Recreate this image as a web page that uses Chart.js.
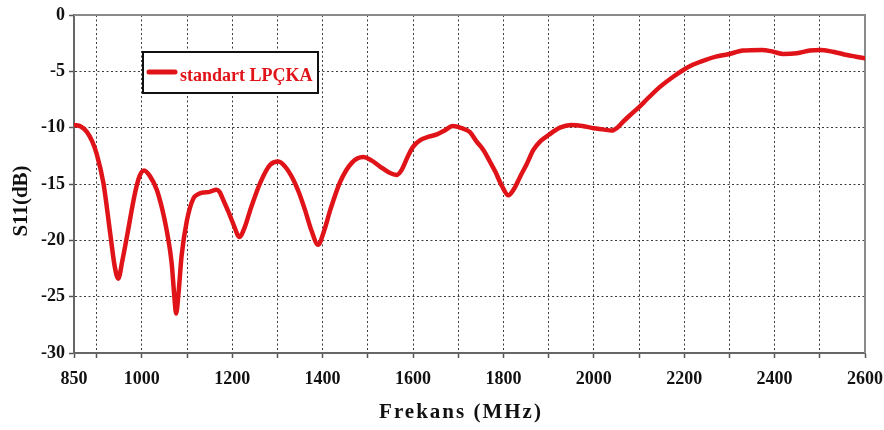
<!DOCTYPE html>
<html>
<head>
<meta charset="utf-8">
<title>S11 - standart LPÇKA</title>
<script src="https://cdn.jsdelivr.net/npm/chart.js@4.4.1/dist/chart.umd.min.js"></script>
<style>
  html, body { margin: 0; padding: 0; background: #ffffff; }
  #wrap { width: 884px; height: 430px; position: relative; }
</style>
</head>
<body>
<div id="wrap"><canvas id="s11"></canvas></div>
<script>
// Measured return loss of the standard LPÇKA antenna
const seriesLabel = 'standart LPÇKA';
const freqMHz = [
  850, 865, 878, 890, 900, 915, 930, 940, 948, 957, 967, 985, 995, 1005, 1018,
  1033, 1045, 1055, 1066, 1072, 1076, 1081, 1088, 1100, 1114, 1125, 1136, 1150,
  1165, 1172, 1180, 1192, 1203, 1216, 1228, 1240, 1262, 1284, 1302, 1318, 1335,
  1348, 1361, 1376, 1390, 1403, 1417, 1439, 1465, 1490, 1508, 1527, 1548, 1564,
  1575, 1588, 1600, 1616, 1635, 1653, 1670, 1688, 1708, 1726, 1740, 1756, 1770,
  1782, 1797, 1811, 1824, 1837, 1852, 1866, 1882, 1900, 1925, 1950, 1975, 2000,
  2020, 2040, 2052, 2065, 2080, 2102, 2117, 2147, 2175, 2198, 2220, 2246, 2270,
  2297, 2330, 2372, 2397, 2419, 2449, 2478, 2500, 2529, 2560, 2580, 2600
];
const s11dB = [
  -9.76, -9.9, -10.35, -11.2, -12.3, -14.9, -19.35, -22.3, -23.4, -21.8, -19.7, -15.8, -14.3, -13.8, -14.3,
  -15.5, -17.2, -19.1, -22.0, -25.0, -26.5, -24.8, -21.4, -18.2, -16.3, -15.9, -15.75, -15.7,
  -15.5, -15.7, -16.4, -17.5, -18.6, -19.7, -18.8, -17.3, -14.9, -13.3, -13.0, -13.5, -14.6,
  -15.8, -17.3, -19.2, -20.4, -19.2, -17.3, -14.8, -13.1, -12.6, -12.9, -13.45, -14.0, -14.2,
  -13.75, -12.6, -11.7, -11.1, -10.8, -10.6, -10.25, -9.85, -10.05, -10.4, -11.2, -12.0, -13.0,
  -13.9, -15.2, -16.0, -15.4, -14.35, -13.2, -12.0, -11.2, -10.65, -10.0, -9.76, -9.85, -10.05,
  -10.15, -10.26, -10.0, -9.47, -8.9, -8.1, -7.5, -6.36, -5.5, -4.88, -4.4, -4.0, -3.7,
  -3.49, -3.16, -3.1, -3.26, -3.46, -3.4, -3.16, -3.1, -3.26, -3.55, -3.7, -3.85
];
// x grid positions and the subset that carries a label
const xGridMHz = [850, 900, 1000, 1100, 1200, 1300, 1400, 1500, 1600, 1700, 1800,
                  1900, 2000, 2100, 2200, 2300, 2400, 2500, 2600];
const xLabelMHz = [850, 1000, 1200, 1400, 1600, 1800, 2000, 2200, 2400, 2600];
const yTicksDB = [0, -5, -10, -15, -20, -25, -30];
const xTitle = 'Frekans (MHz)';
const yTitle = 'S11(dB)';

const RED = '#e01418';
const SERIF = '"Liberation Serif", "Times New Roman", serif';

// solid frame on top/right, axis titles and the boxed legend
const decorations = {
  id: 'decorations',
  beforeDatasetsDraw(chart) {
    const { ctx, chartArea: a } = chart;
    ctx.save();
    ctx.strokeStyle = '#8a8a8a';
    ctx.lineWidth = 2;
    ctx.beginPath();
    ctx.moveTo(a.left, a.top);
    ctx.lineTo(a.right, a.top);
    ctx.lineTo(a.right, a.bottom);
    ctx.stroke();
    ctx.restore();
  },
  afterDraw(chart) {
    const { ctx } = chart;
    ctx.save();
    // y axis title
    ctx.fillStyle = '#111';
    ctx.font = 'bold 21px ' + SERIF;
    ctx.textAlign = 'center';
    ctx.textBaseline = 'middle';
    ctx.translate(22, 201);
    ctx.rotate(-Math.PI / 2);
    ctx.fillText(yTitle, 0, 0);
    ctx.restore();

    // x axis title
    ctx.save();
    ctx.fillStyle = '#111';
    ctx.font = 'bold 21px ' + SERIF;
    if ('letterSpacing' in ctx) ctx.letterSpacing = '2px';
    ctx.textAlign = 'center';
    ctx.textBaseline = 'middle';
    ctx.fillText(xTitle, 461, 413);
    ctx.restore();

    // legend box
    const ds = chart.data.datasets[0];
    const bx = 143, by = 52, bw = 175, bh = 41;
    ctx.save();
    ctx.fillStyle = '#ffffff';
    ctx.fillRect(bx, by, bw, bh);
    ctx.strokeStyle = '#111';
    ctx.lineWidth = 2;
    ctx.strokeRect(bx, by, bw, bh);
    ctx.strokeStyle = ds.borderColor;
    ctx.lineWidth = 5;
    ctx.lineCap = 'round';
    ctx.beginPath();
    ctx.moveTo(149, 72);
    ctx.lineTo(175, 72);
    ctx.stroke();
    ctx.fillStyle = ds.borderColor;
    ctx.font = 'bold 18px ' + SERIF;
    ctx.textAlign = 'left';
    ctx.textBaseline = 'alphabetic';
    ctx.fillText(ds.label, 180, 81);
    ctx.restore();
  }
};

const gridStyle = {
  color: '#3a3a3a',
  lineWidth: 1,
  drawTicks: true,
  tickLength: 5,
  tickColor: '#555',
  tickWidth: 1.5
};

new Chart(document.getElementById('s11'), {
  type: 'line',
  data: {
    datasets: [{
      label: seriesLabel,
      data: freqMHz.map((f, i) => ({ x: f, y: s11dB[i] })),
      borderColor: RED,
      borderWidth: 4.5,
      pointRadius: 0,
      cubicInterpolationMode: 'monotone',
      borderCapStyle: 'round',
      borderJoinStyle: 'round',
      fill: false
    }]
  },
  options: {
    responsive: true,
    maintainAspectRatio: false,
    animation: false,
    layout: { padding: { left: 0, top: 15, right: 19, bottom: 0 } },
    plugins: {
      legend: { display: false },
      tooltip: { enabled: false }
    },
    scales: {
      x: {
        type: 'linear',
        min: 850,
        max: 2600,
        afterBuildTicks(scale) {
          scale.ticks = xGridMHz.map(v => ({ value: v }));
        },
        afterFit(scale) {
          scale.height = 77;
          scale.paddingLeft = 0;
          scale.paddingRight = 0;
        },
        ticks: {
          autoSkip: false,
          maxRotation: 0,
          padding: 11,
          color: '#111',
          font: { family: SERIF, size: 18, weight: 'bold' },
          callback: v => (xLabelMHz.includes(v) ? String(v) : '')
        },
        grid: gridStyle,
        border: { display: true, color: '#666', width: 2, dash: [2, 2.5] }
      },
      y: {
        min: -30,
        max: 0,
        afterBuildTicks(scale) {
          scale.ticks = yTicksDB.map(v => ({ value: v }));
        },
        afterFit(scale) {
          scale.width = 74;
          scale.paddingTop = 0;
          scale.paddingBottom = 0;
        },
        ticks: {
          padding: 4,
          color: '#111',
          font: { family: SERIF, size: 18, weight: 'bold' },
          callback: v => String(v)
        },
        grid: gridStyle,
        border: { display: true, color: '#666', width: 2, dash: [2, 2.5] }
      }
    }
  },
  plugins: [decorations]
});
</script>
</body>
</html>
